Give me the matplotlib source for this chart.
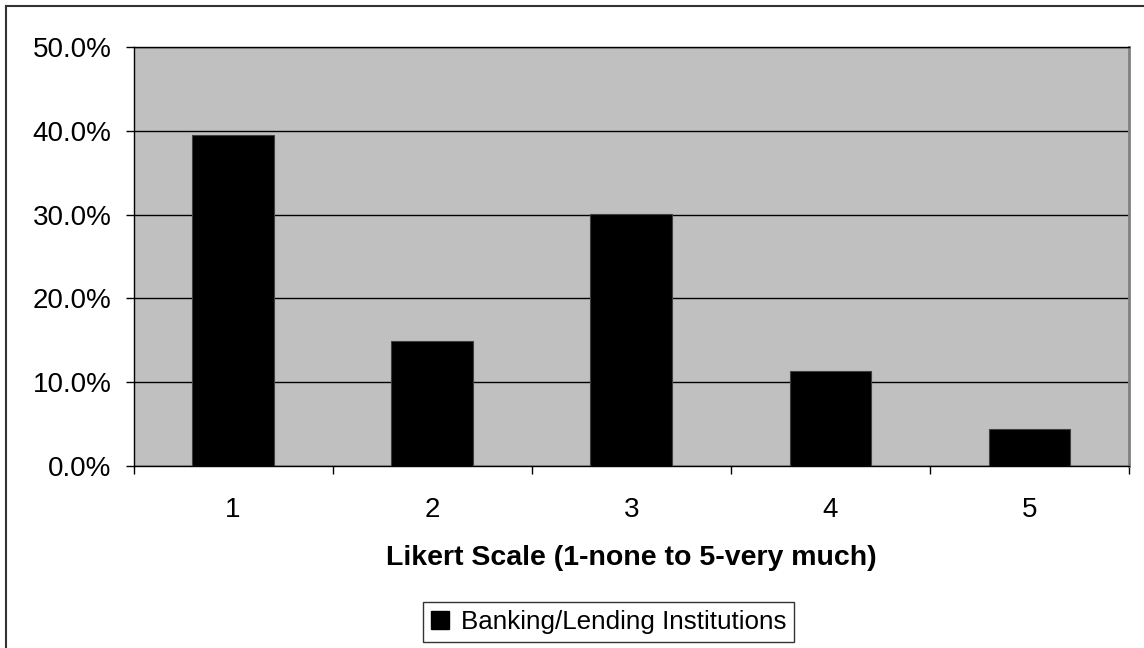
import matplotlib
matplotlib.use("Agg")
import matplotlib.pyplot as plt
from matplotlib.lines import Line2D
from matplotlib.ticker import FixedLocator, PercentFormatter

plt.rcParams['font.family'] = ['Liberation Sans', 'DejaVu Sans']

# share of responses per Likert score
scores = ['1', '2', '3', '4', '5']
banking = [39.5, 14.9, 30.1, 11.3, 4.4]
series_name = 'Banking/Lending Institutions'

fig = plt.figure(figsize=(11.44, 6.48), dpi=100)
ax = fig.add_axes([133.5 / 1144, 1 - 466 / 648, (1129 - 133.5) / 1144, (466 - 47) / 648])
ax.set_facecolor('#c0c0c0')

pos = range(len(scores))
ax.bar(pos, banking, width=0.41, color='black', edgecolor='#404040', linewidth=0.8,
       label=series_name, zorder=3)

ax.set_xlim(-0.5, len(scores) - 0.5)
ax.set_ylim(0, 50)
ax.set_yticks([0, 10, 20, 30, 40, 50])
ax.yaxis.set_major_formatter(PercentFormatter(decimals=1))
ax.yaxis.grid(True, color='black', linewidth=1.0, zorder=1)
ax.set_axisbelow(True)

# tick marks sit between categories, labels at category centres
ax.xaxis.set_major_locator(FixedLocator([i - 0.5 for i in range(len(scores) + 1)]))
ax.xaxis.set_major_formatter(plt.NullFormatter())
ax.xaxis.set_minor_locator(FixedLocator(list(pos)))
ax.set_xticklabels(scores, minor=True)
ax.tick_params(axis='x', which='major', length=6, width=1, direction='out')
ax.tick_params(axis='x', which='minor', length=0, pad=22, labelsize=20)
ax.tick_params(axis='y', length=6, width=1, direction='out', pad=10, labelsize=20)

for side in ['left', 'bottom', 'top']:
    ax.spines[side].set_color('black')
    ax.spines[side].set_linewidth(1.0)
ax.spines['right'].set_color('#808080')
ax.spines['right'].set_linewidth(2.0)

ax.set_xlabel('Likert Scale (1-none to 5-very much)', fontsize=20.5, fontweight='bold',
              labelpad=16)

handle = Line2D([], [], marker='s', color='black', linestyle='none', markersize=13)
leg = fig.legend([handle], [series_name], loc='center', bbox_to_anchor=(0.532, 0.040),
                 fontsize=18.7, frameon=True, fancybox=False, handlelength=0.7,
                 handletextpad=0.45, borderpad=0.3)
leg.get_frame().set_edgecolor('black')
leg.get_frame().set_linewidth(1.0)

# outer chart border (left and top edges fall inside the image)
fig.add_artist(Line2D([6 / 1144, 6 / 1144], [0, 1 - 6 / 648], color='#333333',
                      linewidth=1.5, transform=fig.transFigure))
fig.add_artist(Line2D([6 / 1144, 1], [1 - 6 / 648, 1 - 6 / 648], color='#333333',
                      linewidth=1.5, transform=fig.transFigure))

fig.savefig('out.png', dpi=100, facecolor='white')
